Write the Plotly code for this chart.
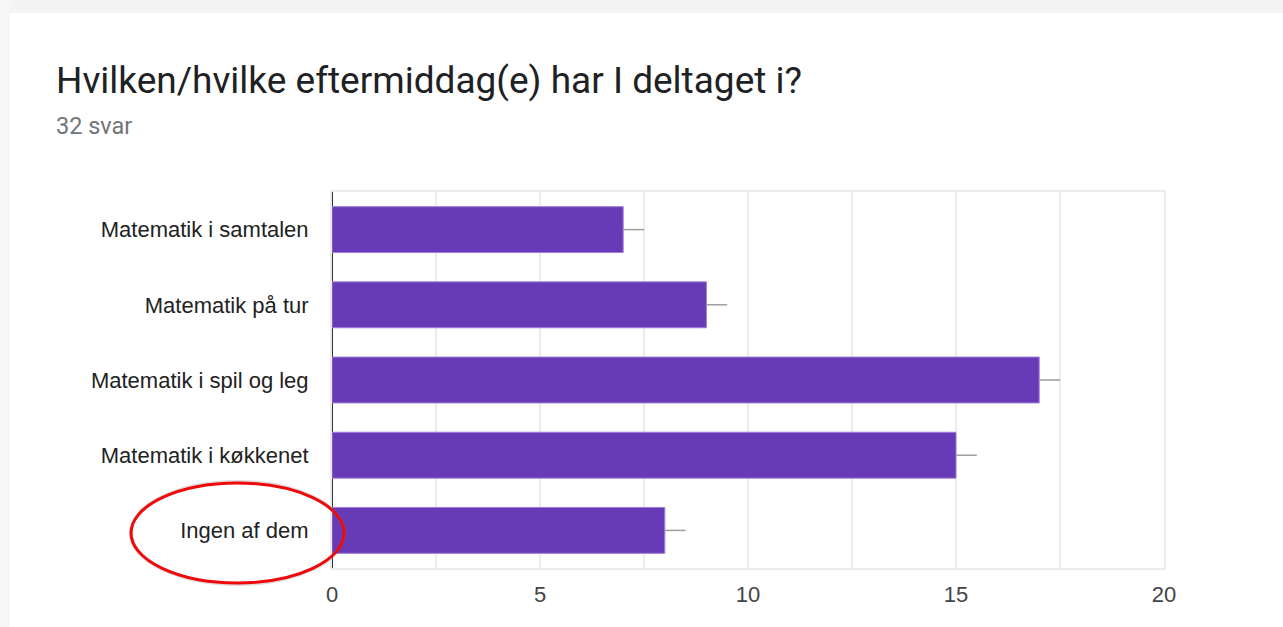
import plotly.graph_objects as go

categories = ["Matematik i samtalen", "Matematik på tur", "Matematik i spil og leg",
              "Matematik i køkkenet", "Ingen af dem"]
values = [7, 9, 17, 15, 8]
err_plus = [0.5, 0.5, 0.5, 0.5, 0.5]
err_minus = [0, 0, 0, 0, 0]
x_ticks = [0, 5, 10, 15, 20]
title_text = "Hvilken/hvilke eftermiddag(e) har I deltaget i?"
subtitle_text = "32 svar"

W, H = 1283, 627
L, R, T, B = 332, 1164, 192, 568


def px(x):
    return (x - L) / (R - L)


def py(y):
    return (B - y) / (B - T)


fig = go.Figure()
fig.add_trace(go.Bar(
    x=values, y=categories, orientation="h",
    marker=dict(color="#673ab7", line=dict(color="#9c7fd6", width=1)),
    error_x=dict(type="data", symmetric=False, array=err_plus, arrayminus=err_minus,
                 color="#9e9e9e", thickness=1.5, width=0),
    hoverinfo="x+y",
))

shapes = [
    # page background around the card
    dict(type="rect", xref="paper", yref="paper", x0=px(0), x1=px(W), y0=py(0), y1=py(13),
         fillcolor="#f4f4f4", line=dict(width=0), layer="below"),
    dict(type="rect", xref="paper", yref="paper", x0=px(0), x1=px(10), y0=py(0), y1=py(H),
         fillcolor="#f6f6f6", line=dict(width=0), layer="below"),
    # red highlight ellipse
    dict(type="circle", xref="paper", yref="paper", x0=px(131), x1=px(344), y0=py(584), y1=py(482),
         line=dict(color="rgba(120,120,120,0.25)", width=4), layer="above"),
    dict(type="circle", xref="paper", yref="paper", x0=px(131), x1=px(344), y0=py(583), y1=py(483),
         line=dict(color="#ee0a0a", width=3), layer="above"),
]

annotations = [
    dict(text=title_text, xref="paper", yref="paper", x=px(54), y=py(81), xanchor="left",
         yanchor="middle", showarrow=False,
         font=dict(family="Roboto", size=37, color="#202124")),
    dict(text=subtitle_text, xref="paper", yref="paper", x=px(54), y=py(126), xanchor="left",
         yanchor="middle", showarrow=False,
         font=dict(family="Roboto", size=23.5, color="#70757a")),
]

fig.update_layout(
    width=W, height=H,
    margin=dict(l=L, r=W - R, t=T, b=H - B, pad=0),
    paper_bgcolor="white", plot_bgcolor="white",
    showlegend=False,
    bargap=0.39,
    shapes=shapes,
    annotations=annotations,
    xaxis=dict(range=[0, 20], tickvals=x_ticks, ticktext=[str(v) for v in x_ticks],
               showgrid=True, gridcolor="#ececec", gridwidth=1.5,
               minor=dict(dtick=2.5, showgrid=True, gridcolor="#ececec", gridwidth=1.5),
               zeroline=True, zerolinecolor="#333333", zerolinewidth=2,
               showline=True, linecolor="#ececec", linewidth=2, mirror=True,
               ticks="", ticklabelstandoff=6,
               tickfont=dict(family="Liberation Sans, Arial", size=22, color="#444444"),
               fixedrange=True),
    yaxis=dict(autorange="reversed", showgrid=False, zeroline=False,
               showline=True, linecolor="#ececec", linewidth=2, mirror=True,
               ticks="", ticklabelstandoff=17,
               tickfont=dict(family="Liberation Sans, Arial", size=22, color="#222222"),
               fixedrange=True),
)

fig.write_html("out.html", config={"displayModeBar": False},
               post_script="document.body.style.margin='0';document.body.style.overflow='hidden';")
